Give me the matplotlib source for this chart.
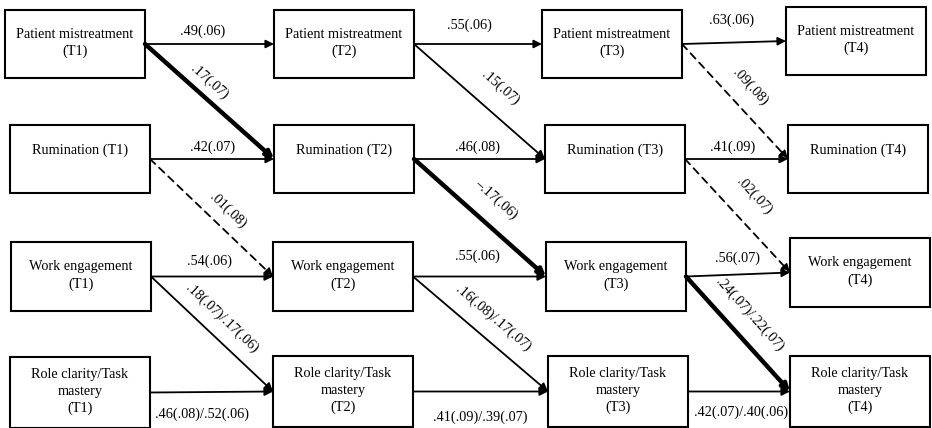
import numpy as np
import matplotlib
matplotlib.use("Agg")
import matplotlib.pyplot as plt
from matplotlib.patches import Rectangle

plt.rcParams['font.family'] = ['Liberation Serif', 'DejaVu Serif']

# ---- data ----
constructs = ["Patient mistreatment", "Rumination", "Work engagement", "Role clarity/Task\nmastery"]
waves = ["T1", "T2", "T3", "T4"]

# autoregressive paths (T1->T2, T2->T3, T3->T4) per construct
stability = [
    [".49(.06)", ".55(.06)", ".63(.06)"],
    [".42(.07)", ".46(.08)", ".41(.09)"],
    [".54(.06)", ".55(.06)", ".56(.07)"],
    [".46(.08)/.52(.06)", ".41(.09)/.39(.07)", ".42(.07)/.40(.06)"],
]

# cross-lagged paths: construct i (Tk) -> construct i+1 (Tk+1)
cross = [
    [".17(.07)", ".15(.07)", ".09(.08)"],
    [".01(.08)", "\u2013.17(.06)", ".02(.07)"],
    [".18(.07)/.17(.06)", ".16(.08)/.17(.07)", ".24(.07)/.22(.07)"],
]
# line style for each cross-lagged path: 'strong', 'sig', 'ns'
cross_kind = [
    ["strong", "sig", "ns"],
    ["ns", "strong", "ns"],
    ["sig", "sig", "strong"],
]

# ---- layout (pixels, y down) ----
box_left = [[5, 274, 542, 786],
            [10, 274, 545, 788],
            [11, 273, 546, 790],
            [10, 273, 548, 790]]
box_top = [[10, 10, 10, 7],
           [125, 125, 125, 125],
           [242, 242, 242, 238],
           [357, 356, 356, 356]]
box_w = 140
box_h = [68, 68, 69, 71]

# label offsets from arrow midpoints
h_dx = [[-7, -9, -2], [1, -2, -4], [-3, -2, 0], [-9, 0, 2]]
h_dy = [[-13, -19, -22], [-12, -12, -12], [-15, -20, -16], [22, 26, 21]]
c_along = [[-13, 7, 0], [7, 0, -3], [-3, 0, -7]]
c_perp = [[15, 24, 21], [17, 24, 26], [18, 20, 22]]

fig = plt.figure(figsize=(9.32, 4.28), dpi=100)
ax = fig.add_axes([0, 0, 1, 1])
ax.set_xlim(0, 932)
ax.set_ylim(428, 0)
ax.axis('off')

FS = 10.3


def box_mid(r, c, side):
    x = box_left[r][c] + (box_w if side == 'right' else 0)
    y = box_top[r][c] + box_h[r] / 2
    return x, y


# boxes
for r, name in enumerate(constructs):
    for c, w in enumerate(waves):
        x0, y0 = box_left[r][c], box_top[r][c]
        ax.add_patch(Rectangle((x0, y0), box_w, box_h[r], fill=False,
                               ec='black', lw=1.5, zorder=2))
        if r == 1:
            ax.text(x0 + box_w / 2, y0 + box_h[r] / 2 - 9, f"{name} ({w})",
                    ha='center', va='center', fontsize=FS)
        else:
            ax.text(x0 + box_w / 2, y0 + box_h[r] / 2 - 1, f"{name}\n({w})",
                    ha='center', va='center', fontsize=FS, linespacing=1.38)


def arrow(p0, p1, kind):
    lw = {'strong': 3.2, 'sig': 1.3, 'ns': 1.3}[kind]
    ls = (0, (4, 3)) if kind == 'ns' else '-'
    ax.annotate("", xy=p1, xytext=p0,
                arrowprops=dict(arrowstyle='-|>', lw=lw, color='black',
                                linestyle=ls, shrinkA=0, shrinkB=0,
                                mutation_scale=12 if kind != 'strong' else 10),
                zorder=3)


# autoregressive arrows
for r in range(4):
    for c in range(3):
        p0 = box_mid(r, c, 'right')
        p1 = box_mid(r, c + 1, 'left')
        arrow(p0, p1, 'sig')
        mx = (p0[0] + p1[0]) / 2
        my = (p0[1] + p1[1]) / 2
        ax.text(mx + h_dx[r][c], my + h_dy[r][c], stability[r][c],
                ha='center', va='center', fontsize=FS)

# cross-lagged arrows
for r in range(3):
    for c in range(3):
        p0 = box_mid(r, c, 'right')
        p1 = box_mid(r + 1, c + 1, 'left')
        arrow(p0, p1, cross_kind[r][c])
        dx, dy = p1[0] - p0[0], p1[1] - p0[1]
        L = np.hypot(dx, dy)
        ux, uy = dx / L, dy / L
        px, py = uy, -ux  # perpendicular, towards upper right
        mx = (p0[0] + p1[0]) / 2 + c_perp[r][c] * px + c_along[r][c] * ux
        my = (p0[1] + p1[1]) / 2 + c_perp[r][c] * py + c_along[r][c] * uy
        ang = -np.degrees(np.arctan2(dy, dx))
        ax.text(mx, my, cross[r][c], ha='center', va='center', fontsize=FS,
                rotation=ang, rotation_mode='anchor')

fig.savefig("out.png", dpi=100)
